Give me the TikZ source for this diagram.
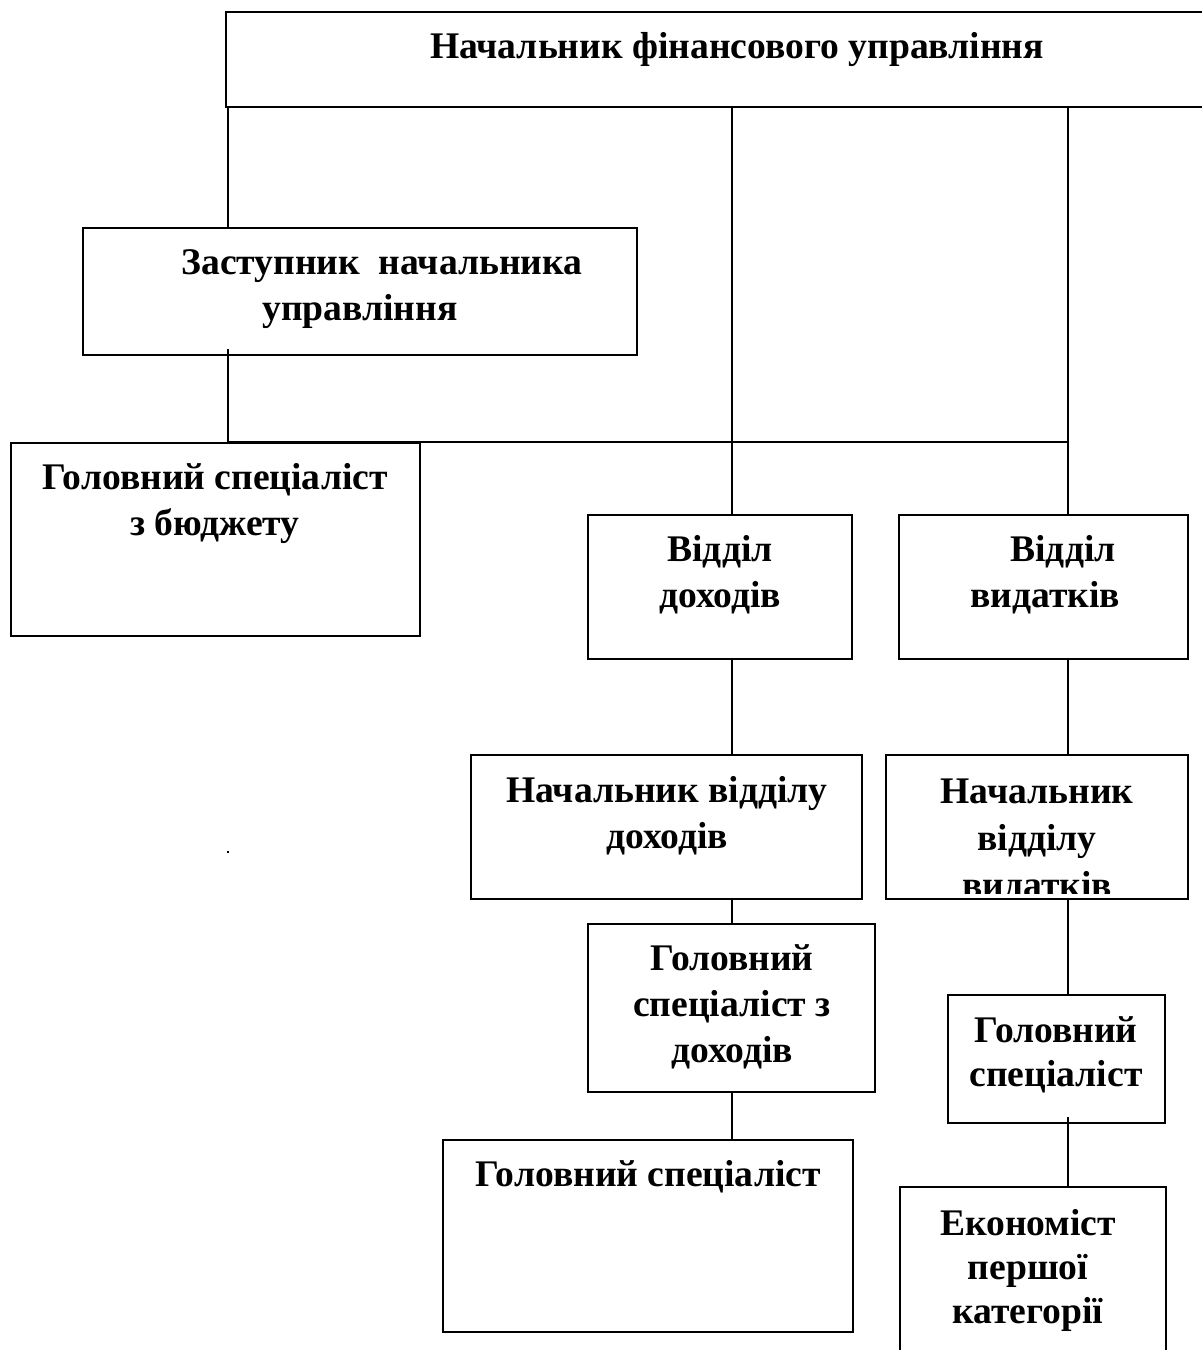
\documentclass[tikz,border=0pt]{standalone}
\usepackage{fontspec}
\setmainfont{Liberation Serif}
\usetikzlibrary{fit}
\newcommand{\lblfont}{\fontsize{18.8}{23}\selectfont\bfseries}
\newcommand{\lbltight}{\fontsize{18.8}{22}\selectfont\bfseries}
\newcommand{\lblloose}{\fontsize{18.8}{23.5}\selectfont\bfseries}
\tikzset{
  box/.style={draw, line width=1.1pt, inner sep=0pt},
  lbl/.style={anchor=base, align=center, inner sep=0pt, font=\lblfont},
  link/.style={line width=0.8pt},
}
\begin{document}
\begin{tikzpicture}[x=0.5pt, y=-0.5pt]
  \useasboundingbox (0,0) rectangle (1201,1350);
  % columns of the connectors
  \coordinate (colA) at (228,0);
  \coordinate (colB) at (732,0);
  \coordinate (colC) at (1068,0);

  % boxes
  \node[box, fit={(226,12) (1215,107)}] (chief) {};
  \node[box, fit={(83,228) (637,355)}] (deputy) {};
  \node[box, fit={(11,443) (420,636)}] (budget) {};
  \node[box, fit={(588,515) (852,659)}] (incomedep) {};
  \node[box, fit={(899,515) (1188,659)}] (expdep) {};
  \node[box, fit={(471,755) (862,899)}] (incomehead) {};
  \node[box, fit={(886,755) (1188,899)}] (exphead) {};
  \node[box, fit={(588,924) (875,1092)}] (incomespec) {};
  \node[box, fit={(443,1140) (853,1332)}] (incomemain) {};
  \node[box, fit={(948,995) (1165,1123)}] (expspec) {};
  \node[box, fit={(900,1187) (1166,1370)}] (economist) {};

  % texts (placed at the baseline of the last line)
  \node[lbl] (chieflbl) at (737,58) {Начальник фінансового управління};
  \node[lbl] (deputylbl) at (360,320) {\hspace*{22pt}Заступник\ \ начальника\\управління};
  \node[lbl] (budgetlbl) at (215,535) {Головний спеціаліст\\з бюджету};
  \node[lbl] (incomedeplbl) at (720,607) {Відділ\\доходів};
  \node[lbl] (expdeplbl) at (1045,607) {\hspace*{18pt}Відділ\\видатків};
  \node[lbl] (incomeheadlbl) at (667,848) {Начальник відділу\\доходів};
  \begin{scope}
    \clip (exphead.north west) rectangle ([yshift=3.5pt]exphead.south east);
    \node[lbl, font=\lblloose] (expheadlbl) at (1037,897) {Начальник\\відділу\\видатків};
  \end{scope}
  \node[lbl] (incomespeclbl) at (732,1062) {Головний\\спеціаліст з\\доходів};
  \node[lbl] (incomemainlbl) at (648,1186) {Головний спеціаліст};
  \node[lbl, font=\lbltight] (expspeclbl) at (1056,1086) {Головний\\спеціаліст};
  \node[lbl, font=\lbltight] (economistlbl) at (1028,1323) {Економіст\\першої\\категорії};

  % connectors
  \draw[link] (chief.south -| colA) -- (deputy.north -| colA);
  \draw[link] ([yshift=3.5pt]deputy.south -| colA) -- (budget.north -| colA);
  \draw[link] (budget.north -| colA) -- (budget.north -| colC);
  \draw[link] (chief.south -| colB) -- (incomedep.north -| colB);
  \draw[link] (chief.south -| colC) -- (expdep.north -| colC);
  \draw[link] (incomedep.south -| colB) -- (incomehead.north -| colB);
  \draw[link] (expdep.south -| colC) -- (exphead.north -| colC);
  \draw[link] (incomehead.south -| colB) -- (incomespec.north -| colB);
  \draw[link] (exphead.south -| colC) -- (expspec.north -| colC);
  \draw[link] (incomespec.south -| colB) -- (incomemain.north -| colB);
  \draw[link] ([yshift=3.5pt]expspec.south -| colC) -- (economist.north -| colC);

  \fill (227,851) rectangle (229,853);
\end{tikzpicture}
\end{document}
